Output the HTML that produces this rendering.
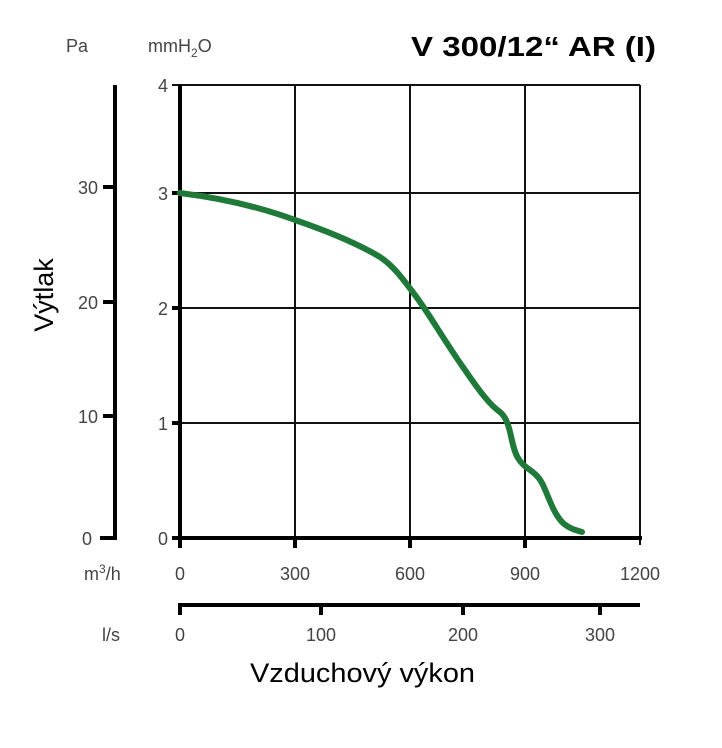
<!DOCTYPE html>
<html><head><meta charset="utf-8"><style>
body{margin:0;background:#fff;width:722px;height:743px;overflow:hidden}
text{font-family:"Liberation Sans",sans-serif;fill:#444;font-size:18px}
</style></head><body>
<svg width="722" height="743" viewBox="0 0 722 743" xmlns="http://www.w3.org/2000/svg">
<g stroke="#111" stroke-width="2" fill="none">
<line x1="295" y1="85" x2="295" y2="538"/>
<line x1="410" y1="85" x2="410" y2="538"/>
<line x1="525" y1="85" x2="525" y2="538"/>
<line x1="640" y1="85" x2="640" y2="545"/>
<line x1="180" y1="193" x2="640" y2="193"/>
<line x1="180" y1="308" x2="640" y2="308"/>
<line x1="180" y1="423" x2="640" y2="423"/>
<line x1="172" y1="85" x2="640" y2="85"/>
</g>
<g stroke="#000" stroke-width="4" fill="none">
<line x1="180" y1="84" x2="180" y2="548"/>
<line x1="172" y1="538" x2="642" y2="538"/>
<line x1="295" y1="538" x2="295" y2="548"/>
<line x1="410" y1="538" x2="410" y2="548"/>
<line x1="525" y1="538" x2="525" y2="548"/>
<line x1="172" y1="193" x2="180" y2="193"/>
<line x1="172" y1="308" x2="180" y2="308"/>
<line x1="172" y1="423" x2="180" y2="423"/>
<line x1="115" y1="85" x2="115" y2="540"/>
<line x1="100" y1="538" x2="117" y2="538"/>
<line x1="103" y1="187" x2="115" y2="187"/>
<line x1="103" y1="302" x2="115" y2="302"/>
<line x1="103" y1="416" x2="115" y2="416"/>
<line x1="180" y1="605" x2="640" y2="605"/>
<line x1="180" y1="603" x2="180" y2="615"/>
<line x1="321" y1="603" x2="321" y2="615"/>
<line x1="463" y1="603" x2="463" y2="615"/>
<line x1="600" y1="603" x2="600" y2="615"/>
</g>
<path d="M180,193 C220,198 260,207 295,220 C330,232 360,245 380,257 C395,267 405,282 415,295 C430,315 445,342 465,370 C480,392 490,405 500,412 C512,422 510,445 518,458 C525,470 536,470 543,485 C550,500 553,512 562,522 C568,528 575,530 582,532" stroke="#1f7a3a" stroke-width="6" fill="none" stroke-linecap="round"/>
<g text-anchor="end">
<text x="168" y="92">4</text><text x="168" y="200">3</text><text x="168" y="315">2</text><text x="168" y="430">1</text><text x="168" y="545">0</text>
<text x="98" y="194">30</text><text x="98" y="309">20</text><text x="98" y="423">10</text><text x="92" y="545">0</text>
</g>
<g text-anchor="middle">
<text x="180" y="580">0</text><text x="295" y="580">300</text><text x="410" y="580">600</text><text x="525" y="580">900</text><text x="640" y="580">1200</text>
<text x="180" y="641">0</text><text x="321" y="641">100</text><text x="463" y="641">200</text><text x="600" y="641">300</text>
</g>
<text x="84" y="580">m<tspan dy="-7" font-size="12">3</tspan><tspan dy="7">/h</tspan></text>
<text x="102" y="641">l/s</text>
<text x="66" y="52">Pa</text>
<text x="148" y="52">mmH<tspan dy="5" font-size="12">2</tspan><tspan dy="-5">O</tspan></text>
<text x="411" y="56" textLength="245" lengthAdjust="spacingAndGlyphs" style="font-size:28px;font-weight:bold;fill:#000">V 300/12“ AR (I)</text>
<text x="250" y="682" textLength="225" lengthAdjust="spacingAndGlyphs" style="font-size:27px;fill:#000">Vzduchový výkon</text>
<text transform="translate(53,295) rotate(-90)" text-anchor="middle" style="font-size:27px;fill:#000">Výtlak</text>
</svg>
</body></html>
